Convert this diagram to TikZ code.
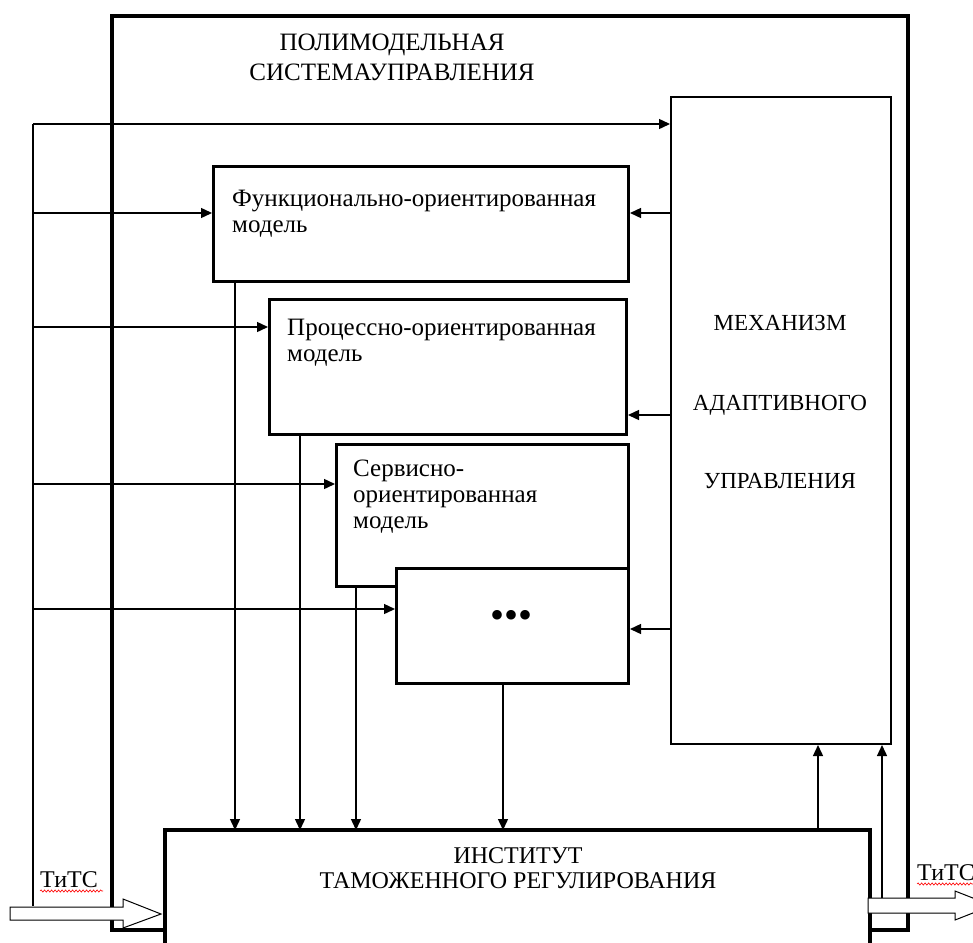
\documentclass[tikz,border=0pt]{standalone}
\usepackage{fontspec}
\setmainfont{Liberation Serif}
\usetikzlibrary{arrows.meta,decorations.pathmorphing}
\begin{document}
\begin{tikzpicture}[x=1pt,y=-1pt,
  outerframe/.style={draw,line width=4.5pt},
  modelbox/.style={draw,line width=3pt,fill=white,anchor=north west,inner sep=0pt},
  mechbox/.style={draw,line width=2pt,fill=white,anchor=north west,inner sep=0pt},
  boxtext/.style={anchor=base west,align=left,inner sep=0pt,font=\fontsize{25}{26}\selectfont},
  captext/.style={anchor=base,inner sep=0pt,font=\fontsize{24}{25}\selectfont},
  conn/.style={line width=1.4pt},
  arr/.style={conn,-{Triangle[length=11pt,width=10pt]}},
  hollow/.style={draw,line width=1pt,fill=white},
  squiggle/.style={draw=red,line width=0.6pt,decorate,decoration={snake,amplitude=1.1pt,segment length=3.5pt}}
]
\useasboundingbox (0,0) rectangle (973,942);

% outer frame
\draw[outerframe] (112,16) rectangle (908,930);

% title
\node[captext,font=\fontsize{25}{30}\selectfont] (t1) at (392,50) {ПОЛИМОДЕЛЬНАЯ};
\node[captext,font=\fontsize{25}{30}\selectfont] (t2) at (392,80) {СИСТЕМАУПРАВЛЕНИЯ};

% mechanism
\node[mechbox,minimum width=220,minimum height=647] (M) at (670,96) {};
\node[captext,font=\fontsize{23}{25}\selectfont] (m1) at (780,330) {МЕХАНИЗМ};
\node[captext,font=\fontsize{23}{25}\selectfont] (m2) at (780,410) {АДАПТИВНОГО};
\node[captext,font=\fontsize{23}{25}\selectfont] (m3) at (780,488) {УПРАВЛЕНИЯ};

% model boxes (text anchored at the baseline of its last line)
\node[modelbox,minimum width=415,minimum height=115] (F) at (212,165) {};
\node[boxtext] (Ft) at (232,232) {Функционально-ориентированная\\модель};
\node[modelbox,minimum width=357,minimum height=135] (P) at (268,298) {};
\node[boxtext] (Pt) at (287,361) {Процессно-ориентированная\\модель};
\node[modelbox,minimum width=292,minimum height=142] (S) at (335,443) {};
\node[boxtext] (St) at (353,528) {Сервисно-\\ориентированная\\модель};
\node[modelbox,minimum width=232,minimum height=115] (D) at (395,567) {};
\node[inner sep=0pt,font=\fontsize{40}{40}\selectfont] (Dt) at (511,619) {•••};

% institute
\draw[outerframe,fill=white] (165,830) rectangle (870,960);
\node[captext] (i1) at (518,863) {ИНСТИТУТ};
\node[captext] (i2) at (518,888) {ТАМОЖЕННОГО РЕГУЛИРОВАНИЯ};

% left bus
\coordinate (b0) at (33,124);
\coordinate (b1) at (33,213);
\coordinate (b2) at (33,327);
\coordinate (b3) at (33,484);
\coordinate (b4) at (33,609);
\coordinate (bend) at (33,906);
\draw[conn] (b0) -- (bend);
\draw[arr] (b0) -- (b0 -| M.west);
\draw[arr] (b1) -- (b1 -| F.west);
\draw[arr] (b2) -- (b2 -| P.west);
\draw[arr] (b3) -- (b3 -| S.west);
\draw[arr] (b4) -- (b4 -| D.west);

% mechanism to models
\coordinate (r1) at (670,213);
\coordinate (r2) at (670,415);
\coordinate (r3) at (670,629);
\draw[arr] (r1) -- (r1 -| F.east);
\draw[arr] (r2) -- (r2 -| P.east);
\draw[arr] (r3) -- (r3 -| D.east);

% models down to institute
\coordinate (d1) at (235,830);
\coordinate (d2) at (300,830);
\coordinate (d3) at (356,830);
\coordinate (d4) at (503,830);
\draw[arr] (d1 |- F.south) -- (d1);
\draw[arr] (d2 |- P.south) -- (d2);
\draw[arr] (d3 |- S.south) -- (d3);
\draw[arr] (d4 |- D.south) -- (d4);

% up to mechanism
\coordinate (u1) at (818,830);
\coordinate (u2) at (882,898);
\draw[arr] (u1) -- (u1 |- M.south);
\draw[arr] (u2) -- (u2 |- M.south);

% hollow arrows
\draw[hollow] (10,907) -- (123,907) -- (123,899) -- (161,914) -- (123,928) -- (123,920) -- (10,920) -- cycle;
\draw[hollow] (868,898) -- (955,898) -- (955,891) -- (992,905.5) -- (955,920) -- (955,913) -- (868,913) -- cycle;

% labels
\node[anchor=base west,inner sep=0pt,font=\fontsize{24}{26}\selectfont] (tl) at (40,887) {ТиТС};
\draw[squiggle] (40,891) -- (103,891);
\node[anchor=base west,inner sep=0pt,font=\fontsize{24}{26}\selectfont] (tr) at (917,880) {ТиТС};
\draw[squiggle] (917,884) -- (973,884);
\end{tikzpicture}
\end{document}
